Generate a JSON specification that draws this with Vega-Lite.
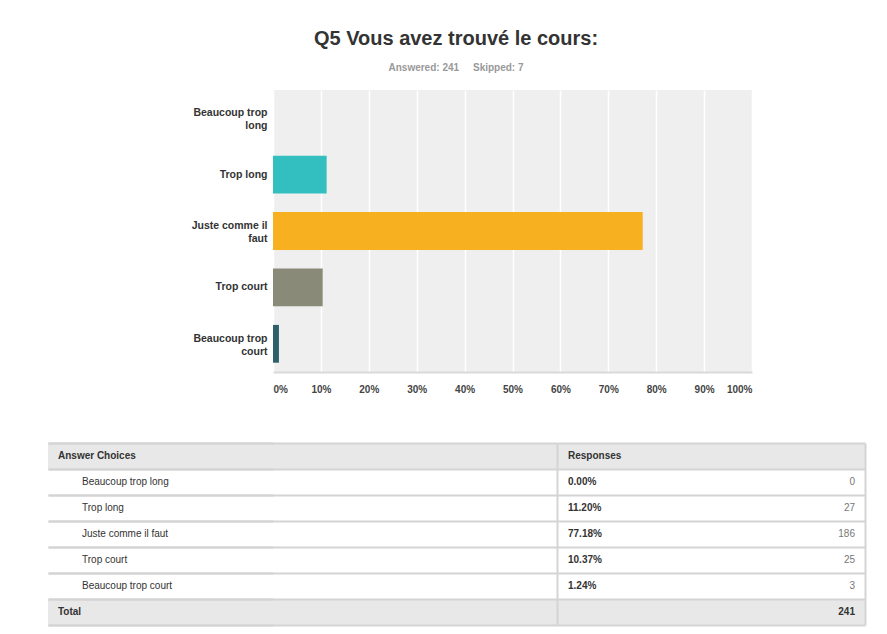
{
  "$schema": "https://vega.github.io/schema/vega-lite/v6.json",
  "background": "white",
  "padding": {"left": 47, "right": 23, "top": 29, "bottom": 8},
  "config": {
    "font": "Liberation Sans",
    "view": {"stroke": null},
    "axis": {"labelFont": "Liberation Sans"}
  },
  "datasets": {
    "rows": [
      {"choice": "Answer Choices", "kind": "header", "share": null, "count": null},
      {"choice": "Beaucoup trop long", "kind": "answer", "share": 0.0, "count": 0},
      {"choice": "Trop long", "kind": "answer", "share": 0.1120, "count": 27},
      {"choice": "Juste comme il faut", "kind": "answer", "share": 0.7718, "count": 186},
      {"choice": "Trop court", "kind": "answer", "share": 0.1037, "count": 25},
      {"choice": "Beaucoup trop court", "kind": "answer", "share": 0.0124, "count": 3},
      {"choice": "Total", "kind": "total", "share": null, "count": 241}
    ]
  },
  "title": {
    "text": "Q5 Vous avez trouvé le cours:",
    "subtitle": "Answered: 241\u00a0\u00a0\u00a0\u00a0 Skipped: 7",
    "anchor": "middle",
    "font": "Liberation Sans",
    "fontSize": 20,
    "fontWeight": "bold",
    "color": "#333333",
    "subtitleFont": "Liberation Sans",
    "subtitleFontSize": 10,
    "subtitleFontWeight": "bold",
    "subtitleColor": "#999999",
    "subtitlePadding": 14,
    "offset": 17
  },
  "spacing": 48,
  "vconcat": [
    {
      "width": 479,
      "height": 282,
      "data": {"name": "rows"},
      "transform": [{"filter": "datum.kind == 'answer'"}],
      "view": {"fill": "#efefef", "stroke": null},
      "mark": {"type": "bar"},
      "encoding": {
        "y": {
          "field": "choice", "type": "nominal", "sort": null,
          "scale": {"paddingInner": 0.33, "paddingOuter": 0.165},
          "axis": {
            "title": null, "ticks": false, "domain": false, "labelPadding": 6,
            "labelFontSize": 10.5, "labelFontWeight": "bold",
            "labelColor": "#333333", "labelLimit": 220, "labelLineHeight": 13,
            "labelOffset": {"condition": {"test": "length(datum.label) > 12", "value": -5}, "value": 0},
            "labelExpr": "length(datum.label) > 12 ? [slice(datum.label, 0, lastindexof(datum.label, ' ')), slice(datum.label, lastindexof(datum.label, ' ') + 1)] : datum.label"
          }
        },
        "x": {
          "field": "share", "type": "quantitative",
          "scale": {"domain": [0, 1], "nice": false},
          "axis": {
            "title": null, "values": [0, 0.1, 0.2, 0.3, 0.4, 0.5, 0.6, 0.7, 0.8, 0.9, 1],
            "format": ".0%", "labelFlush": true, "labelOverlap": false, "ticks": false,
            "grid": true, "gridColor": "#ffffff", "gridWidth": 1.5,
            "domainColor": "#d9d9d9", "domainWidth": 2,
            "labelPadding": 12, "labelFontSize": 10, "labelFontWeight": "bold", "labelColor": "#444444"
          }
        },
        "color": {
          "field": "choice", "type": "nominal",
          "scale": {
            "domain": ["Beaucoup trop long", "Trop long", "Juste comme il faut", "Trop court", "Beaucoup trop court"],
            "range": ["#1f4e79", "#33bfc0", "#f7b020", "#8a8a78", "#2e5f6b"]
          },
          "legend": null
        }
      }
    },
    {
      "spacing": 0,
      "hconcat": [
        {
          "width": 284,
          "height": 182,
          "data": {"name": "rows"},
          "encoding": {
            "y": {
              "field": "choice", "type": "nominal", "sort": null,
              "scale": {"domain": ["Answer Choices", "Beaucoup trop long", "Trop long", "Juste comme il faut", "Trop court", "Beaucoup trop court", "Total"], "paddingInner": 0, "paddingOuter": 0},
              "axis": {"title": null, "labels": false, "ticks": true, "tickSize": 225, "tickWidth": 2, "tickColor": "#d4d4d4", "domain": false, "grid": true, "tickBand": "extent", "gridColor": "#d4d4d4", "gridWidth": 2, "zindex": 1}
            },
            "x": {"datum": "Answer Choices", "type": "nominal", "scale": {"type": "band", "paddingInner": 0, "paddingOuter": 0, "range": [-225, 284]}, "axis": null}
          },
          "layer": [
            {"transform": [{"filter": "datum.kind != 'answer'"}], "mark": {"type": "rect", "fill": "#e8e8e8"}},
            {
              "transform": [{"filter": "datum.kind != 'answer'"}],
              "mark": {"type": "text", "align": "left", "baseline": "middle", "dx": 10, "fontSize": 10, "fontWeight": "bold", "color": "#333333"},
              "encoding": {
                "x": {"datum": "Answer Choices", "type": "nominal", "bandPosition": 0},
                "text": {"field": "choice"}
              }
            },
            {
              "transform": [{"filter": "datum.kind == 'answer'"}],
              "mark": {"type": "text", "align": "left", "baseline": "middle", "dx": 34, "fontSize": 10, "color": "#333333"},
              "encoding": {
                "x": {"datum": "Answer Choices", "type": "nominal", "bandPosition": 0},
                "text": {"field": "choice"}
              }
            }
          ]
        },
        {
          "width": 308,
          "height": 182,
          "data": {"name": "rows"},
          "encoding": {
            "y": {
              "field": "choice", "type": "nominal", "sort": null,
              "scale": {"domain": ["Answer Choices", "Beaucoup trop long", "Trop long", "Juste comme il faut", "Trop court", "Beaucoup trop court", "Total"], "paddingInner": 0, "paddingOuter": 0},
              "axis": {"title": null, "labels": false, "ticks": false, "domain": false, "grid": true, "tickBand": "extent", "gridColor": "#d4d4d4", "gridWidth": 2, "zindex": 1}
            },
            "x": {
              "datum": "Responses", "type": "nominal",
              "scale": {"type": "band", "paddingInner": 0, "paddingOuter": 0},
              "axis": {"title": null, "labels": false, "ticks": false, "domain": false, "grid": true, "tickBand": "extent", "gridColor": "#d4d4d4", "gridWidth": 2, "zindex": 1}
            }
          },
          "layer": [
            {"transform": [{"filter": "datum.kind != 'answer'"}], "mark": {"type": "rect", "fill": "#e8e8e8"}},
            {
              "transform": [{"filter": "datum.kind == 'header'"}],
              "mark": {"type": "text", "align": "left", "baseline": "middle", "dx": 11, "fontSize": 10, "fontWeight": "bold", "color": "#333333", "text": "Responses"},
              "encoding": {"x": {"datum": "Responses", "type": "nominal", "bandPosition": 0}}
            },
            {
              "transform": [{"filter": "datum.kind == 'answer'"}],
              "mark": {"type": "text", "align": "left", "baseline": "middle", "dx": 11, "fontSize": 10, "fontWeight": "bold", "color": "#333333"},
              "encoding": {
                "x": {"datum": "Responses", "type": "nominal", "bandPosition": 0},
                "text": {"field": "share", "type": "quantitative", "format": ".2%"}
              }
            },
            {
              "transform": [{"filter": "datum.kind == 'answer'"}],
              "mark": {"type": "text", "align": "right", "baseline": "middle", "dx": -10, "fontSize": 10, "color": "#777777"},
              "encoding": {
                "x": {"datum": "Responses", "type": "nominal", "bandPosition": 1},
                "text": {"field": "count", "type": "quantitative"}
              }
            },
            {
              "transform": [{"filter": "datum.kind == 'total'"}],
              "mark": {"type": "text", "align": "right", "baseline": "middle", "dx": -10, "fontSize": 10, "fontWeight": "bold", "color": "#333333"},
              "encoding": {
                "x": {"datum": "Responses", "type": "nominal", "bandPosition": 1},
                "text": {"field": "count", "type": "quantitative"}
              }
            }
          ]
        }
      ]
    }
  ]
}
